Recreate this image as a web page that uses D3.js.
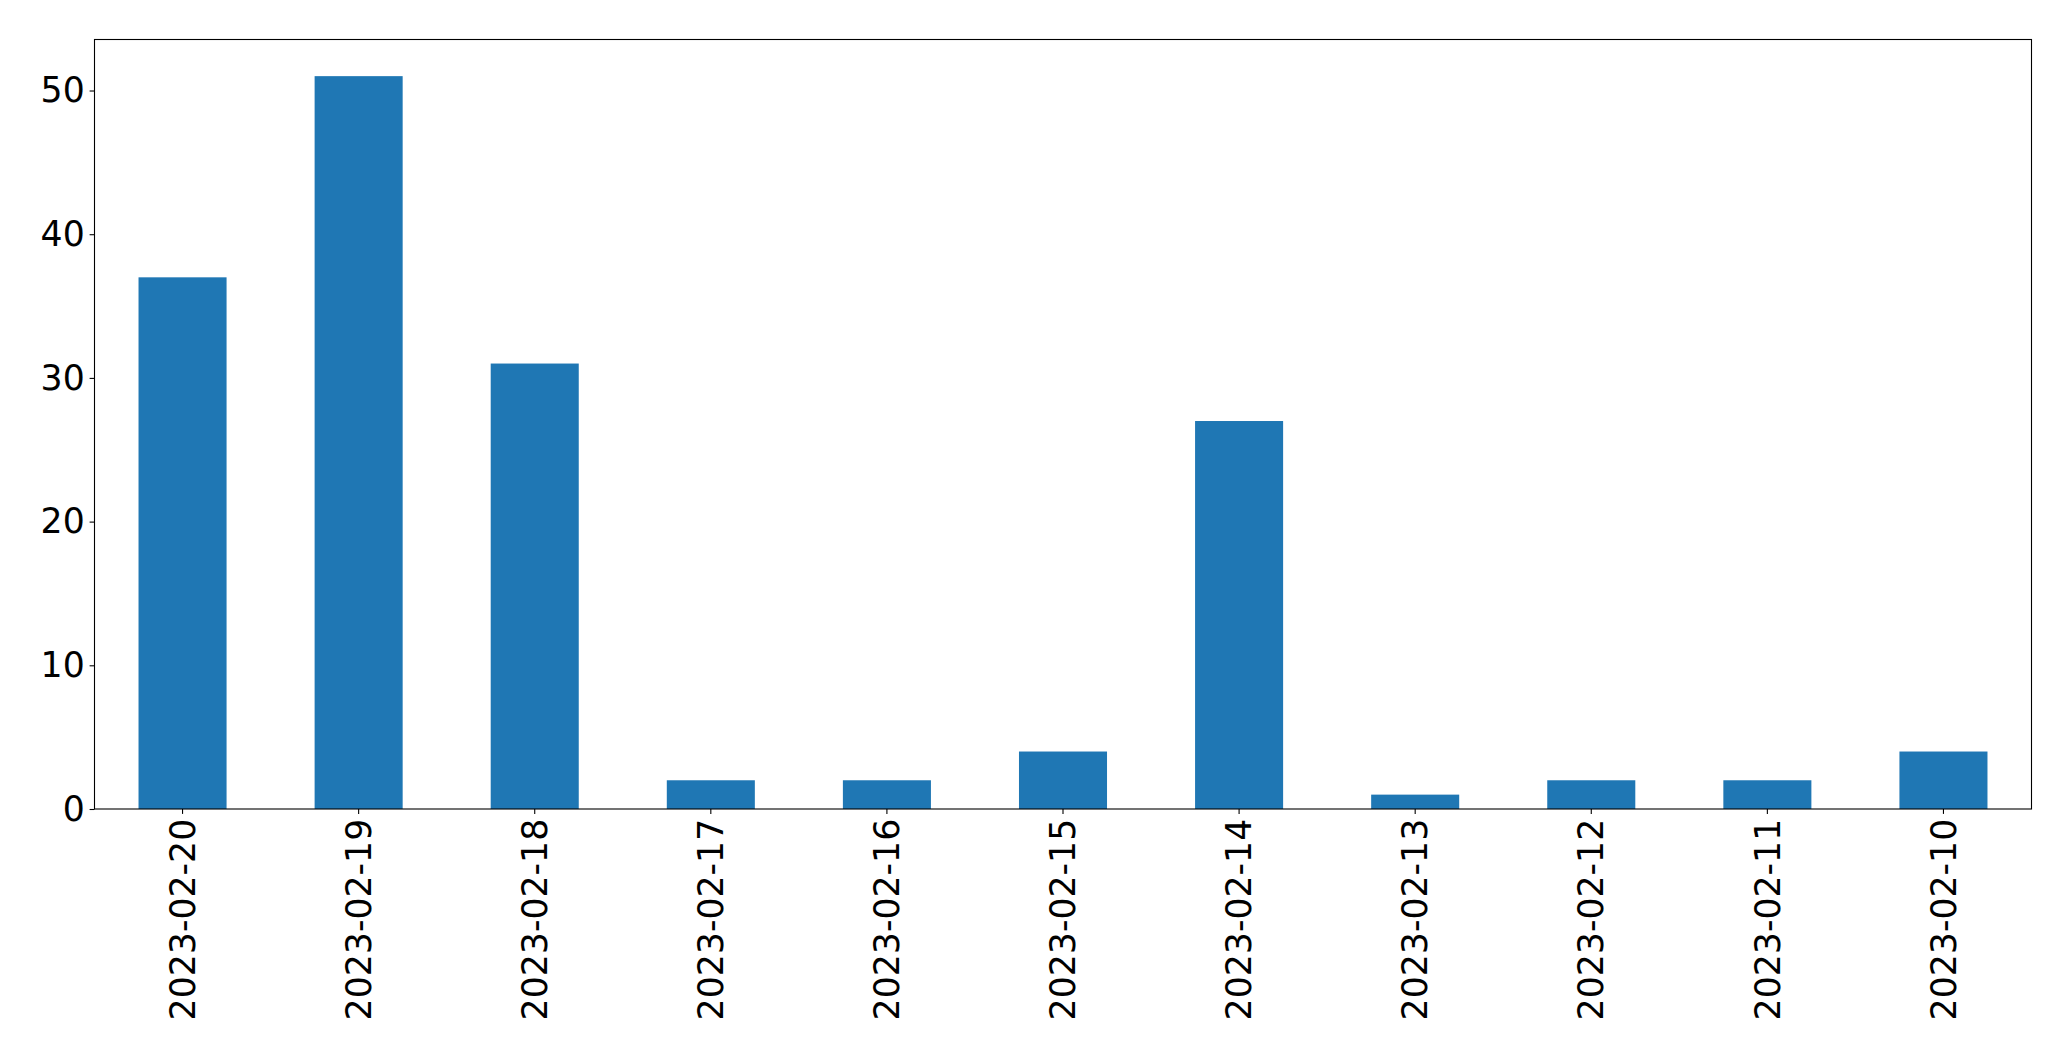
<!DOCTYPE html>
<html><head><meta charset="utf-8">
<script src="https://cdn.jsdelivr.net/npm/d3@7"></script>
<style>html,body{margin:0;padding:0;background:#fff;}svg{display:block;}</style>
</head><body>
<script>
const categories = ["2023-02-20","2023-02-19","2023-02-18","2023-02-17","2023-02-16","2023-02-15","2023-02-14","2023-02-13","2023-02-12","2023-02-11","2023-02-10"];
const values = [37, 51, 31, 2, 2, 4, 27, 1, 2, 2, 4];
const yTicks = [0, 10, 20, 30, 40, 50];

const W = 2071, H = 1061;
const m = {left: 94.5, top: 39.5, right: 2031.5, bottom: 809};
const svg = d3.select("body").append("svg").attr("width", W).attr("height", H);

const x = d3.scaleBand().domain(categories).range([m.left, m.right]).paddingInner(0.5).paddingOuter(0.25);
const y = d3.scaleLinear().domain([0, d3.max(values) * 1.05]).range([m.bottom, m.top]);

svg.append("g").selectAll("rect").data(values).join("rect")
  .attr("x", (d, i) => x(categories[i]))
  .attr("width", x.bandwidth())
  .attr("y", d => y(d))
  .attr("height", d => y(0) - y(d))
  .attr("fill", "#1f77b4");

const font = "'DejaVu Sans', sans-serif";
const fs = 34.7;
const gy = svg.append("g").attr("transform", `translate(${m.left},0)`)
  .call(d3.axisLeft(y).tickValues(yTicks).tickSize(4.9).tickPadding(4.9).tickFormat(d3.format("d")));
gy.select(".domain").remove();
gy.selectAll("text").attr("font-family", font).attr("font-size", fs).attr("fill", "#000");
gy.selectAll("line").attr("stroke", "#000").attr("stroke-width", 1.1);

const gx = svg.append("g").attr("transform", `translate(0,${m.bottom})`)
  .call(d3.axisBottom(x).tickSize(4.9).tickPadding(4.9));
gx.select(".domain").remove();
gx.selectAll("line").attr("stroke", "#000").attr("stroke-width", 1.1);
gx.selectAll("text")
  .attr("font-family", font).attr("font-size", fs).attr("fill", "#000")
  .attr("transform", "rotate(-90)")
  .attr("text-anchor", "end")
  .attr("x", -9.8).attr("y", 0).attr("dy", "0.35em");

svg.append("rect").attr("x", m.left).attr("y", m.top)
  .attr("width", m.right - m.left).attr("height", m.bottom - m.top)
  .attr("fill", "none").attr("stroke", "#000").attr("stroke-width", 1.1);
</script>
</body></html>
